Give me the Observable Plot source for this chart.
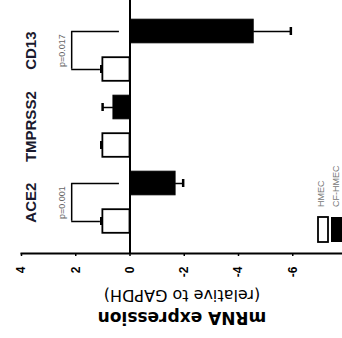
<!DOCTYPE html>
<html>
<head>
<meta charset="utf-8">
<script src="https://cdn.jsdelivr.net/npm/d3@7"></script>
<script src="https://cdn.jsdelivr.net/npm/@observablehq/plot@0.6"></script>
<style>
  html, body { margin: 0; padding: 0; background: white; }
  #chart svg { display: block; }
</style>
</head>
<body>
<div id="chart"></div>
<script>
// Data (chart is drawn rotated: categories top-to-bottom, values increase to the left)
const categories = ["CD13", "TMPRSS2", "ACE2"];
const groups = ["CF-HMEC", "HMEC"];
const hmecValues = [1, 1, 1];
const hmecErrors = [0.06, 0.06, 0.06];
const cfValues = [-4.56, 0.61, -1.68];
const cfErrors = [1.37, 0.40, 0.28];
const pLabels = ["p=0.017", null, "p=0.001"];
const tickValues = [-6, -4, -2, 0, 2, 4];
const tickLabels = ["-6", "-4", "-2", "0", "2", "4"];
const axisTitle = ["mRNA expression", "(relative to GAPDH)"];

const rows = categories.flatMap((c, i) => [
  {category: c, group: groups[0], value: cfValues[i], err: cfErrors[i]},
  {category: c, group: groups[1], value: hmecValues[i], err: hmecErrors[i]}
]).map(d => ({...d, key: d.category + "|" + d.group, end: d.value + Math.sign(d.value) * d.err}));
const cfRows = rows.filter(d => d.group === groups[0]);
const hmRows = rows.filter(d => d.group === groups[1]);
const brackets = categories.map((c, i) => ({cf: c + "|" + groups[0], hm: c + "|" + groups[1], p: pLabels[i]}))
  .filter(d => d.p);

const half = 19.2;
const bx = 2.15;
const sans = "'Liberation Sans', Arial, sans-serif";

const chart = Plot.plot({
  width: 342,
  height: 338,
  marginTop: 0,
  marginBottom: 85,
  marginLeft: 21,
  marginRight: 0,
  style: {background: "white", fontFamily: sans, color: "black"},
  x: {domain: [-8, 4], range: [346.5, 21]},
  y: {type: "band", domain: rows.map(d => d.key), range: [10.8, 241.2], padding: 0, axis: null},
  marks: [
    Plot.barX(hmRows, {y: "key", x1: 0, x2: "value", fill: "white", stroke: "black", strokeWidth: 1.8, insetTop: 7.2, insetBottom: 7.2}),
    Plot.barX(cfRows, {y: "key", x1: 0, x2: "value", fill: "black", stroke: "black", strokeWidth: 1, insetTop: 7.2, insetBottom: 7.2}),
    Plot.ruleY(rows, {y: "key", x1: "value", x2: "end", strokeWidth: 1.5}),
    Plot.tickX(rows, {x: "end", y: "key", insetTop: 15, insetBottom: 15, strokeWidth: 2.5}),
    Plot.ruleX([0], {strokeWidth: 2}),
    Plot.frame({anchor: "bottom", strokeWidth: 2}),
    Plot.axisX({ticks: tickValues, tickSize: 3, tickFormat: () => "", label: null, strokeWidth: 1.5}),
    Plot.text(tickValues, {x: d => d, text: (d, i) => tickLabels[i], frameAnchor: "bottom", dy: 13, rotate: -90,
      textAnchor: "end", lineAnchor: "middle", fontSize: 12, fontWeight: "bold"}),
    // p-value brackets
    Plot.ruleY(brackets, {y: "cf", x1: bx, x2: 0.39, strokeWidth: 1.5}),
    Plot.ruleY(brackets, {y: "hm", x1: bx, x2: 1.09, strokeWidth: 1.5}),
    Plot.ruleX(brackets, {x: bx, y1: "cf", y2: "hm", insetTop: half, insetBottom: half, strokeWidth: 1.5}),
    Plot.text(brackets, {x: 2.5, y: "cf", dy: half, text: "p", rotate: -90, textAnchor: "middle", lineAnchor: "middle",
      fontSize: 9, fill: "#666", fontFamily: sans}),
    // category labels
    Plot.text(categories, {y: c => c + "|" + groups[0], text: d => d, frameAnchor: "left", dx: 10, dy: half,
      rotate: -90, textAnchor: "middle", lineAnchor: "middle", fontSize: 15, fontWeight: "bold", fill: "#1a1a2e"}),
    // axis title (upside down)
    Plot.text([axisTitle[0]], {frameAnchor: "bottom", dy: 64, rotate: 180, textAnchor: "middle", lineAnchor: "middle",
      fontSize: 17, fontWeight: "bold", fontFamily: "'DejaVu Sans', sans-serif"}),
    Plot.text([axisTitle[1]], {frameAnchor: "bottom", dy: 42, rotate: 180, textAnchor: "middle", lineAnchor: "middle",
      fontSize: 16, fontFamily: "'DejaVu Sans', sans-serif"})
  ]
});

// legend
const svg = d3.select(chart);
const lg = svg.append("g");
lg.append("rect").attr("x", 318).attr("y", 217).attr("width", 10).attr("height", 25)
  .attr("fill", "white").attr("stroke", "black").attr("stroke-width", 1.8);
lg.append("rect").attr("x", 331).attr("y", 217).attr("width", 12).attr("height", 25)
  .attr("fill", "black");
[["HMEC", 321], ["CF-HMEC", 336]].forEach(([t, x]) => {
  lg.append("text").attr("transform", `translate(${x},207) rotate(-90)`)
    .attr("text-anchor", "start").attr("dy", "0.32em")
    .attr("font-size", 9).attr("fill", "#777").attr("font-family", sans).text(t);
});

document.getElementById("chart").appendChild(chart);
</script>
</body>
</html>
